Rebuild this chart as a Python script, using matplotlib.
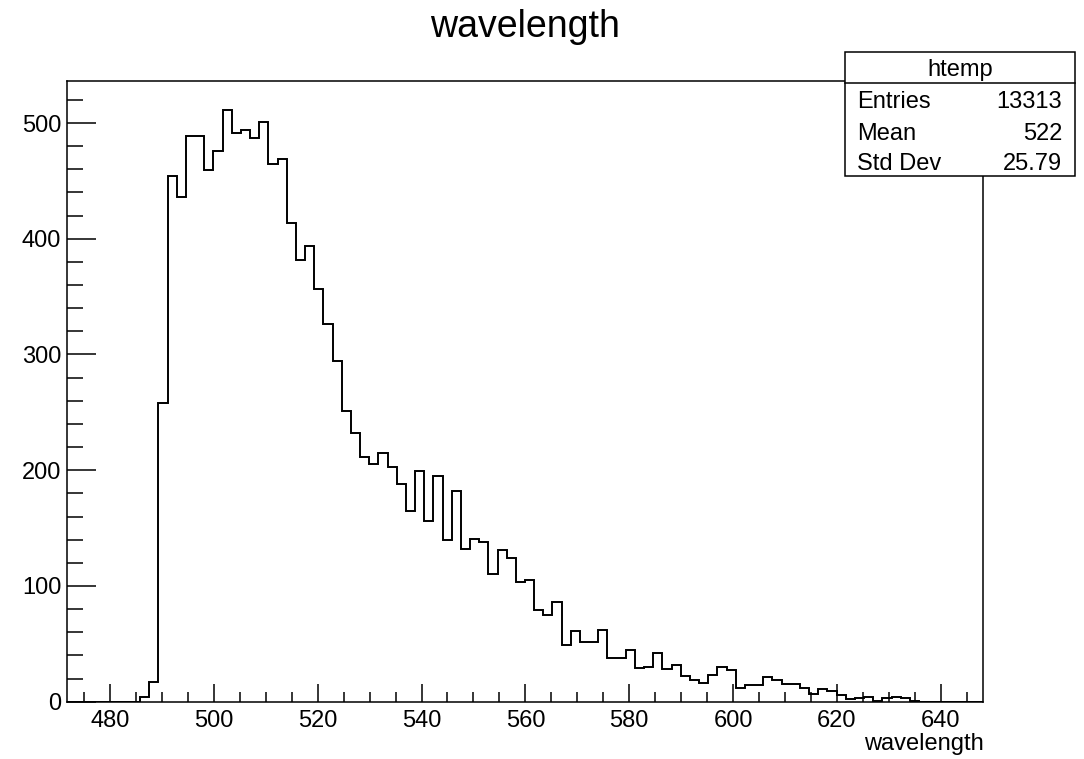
import numpy as np
import matplotlib
matplotlib.use("Agg")
import matplotlib.pyplot as plt
from matplotlib.patches import Rectangle
from matplotlib.lines import Line2D
from matplotlib.ticker import MultipleLocator

plt.rcParams['font.family'] = ['Liberation Sans', 'DejaVu Sans']

# ---- data ----
title = "wavelength"
x_label = "wavelength"
hist_name = "htemp"
x_min = 471.66
x_max = 648.2
n_bins = 100
counts = [0, 0, 0, 0, 0, 0, 0, 0,
          4, 17, 258, 454, 436, 489, 489, 459, 476, 511,
          491, 494, 487, 501, 465, 469, 414, 382, 394, 357,
          326, 294, 251, 232, 211, 205, 215, 203, 188, 165,
          199, 156, 195, 140, 182, 132, 141, 138, 110, 131,
          124, 103, 105, 79, 75, 86, 49, 61, 52, 52,
          62, 38, 38, 45, 29, 30, 42, 28, 32, 22,
          19, 16, 23, 30, 27, 12, 14, 14, 21, 19,
          15, 15, 12, 7, 11, 9, 6, 2, 3, 4,
          1, 3, 4, 3, 1,
          0, 0, 0, 0, 0, 0, 0]
stat_labels = ["Entries", "Mean", "Std Dev"]
stat_values = ["13313", "522", "25.79"]

edges = np.linspace(x_min, x_max, n_bins + 1)

W, H = 1084, 759
fig = plt.figure(figsize=(W / 100, H / 100), dpi=100)
ax = fig.add_axes([66.7 / W, 1 - 701.7 / H, (983.3 - 66.7) / W, (701.7 - 80.7) / H])

ax.stairs(counts, edges, color='black', linewidth=1.4, baseline=0)
ax.set_xlim(x_min, x_max)
ax.set_ylim(0, 1.05 * max(counts))

ax.xaxis.set_major_locator(MultipleLocator(20))
ax.xaxis.set_minor_locator(MultipleLocator(5))
ax.yaxis.set_major_locator(MultipleLocator(100))
ax.yaxis.set_minor_locator(MultipleLocator(20))

ax.tick_params(axis='x', which='major', direction='in', length=12.7, width=1.1,
               labelsize=17, pad=6, top=False)
ax.tick_params(axis='x', which='minor', direction='in', length=7.4, width=1.1, top=False)
ax.tick_params(axis='y', which='major', direction='in', length=20.9, width=1.1,
               labelsize=17, pad=4, right=False)
ax.tick_params(axis='y', which='minor', direction='in', length=11.5, width=1.1, right=False)

for s in ax.spines.values():
    s.set_linewidth(1.1)
    s.set_color('black')

fig.text(525 / W, 1 - 37.3 / H, title, ha='center', va='baseline', fontsize=27)
fig.text(983.3 / W, 1 - 750 / H, x_label, ha='right', va='baseline', fontsize=17)

# stats box
bl, br, bt, bh, bb = 845 / W, 1075 / W, 1 - 51.7 / H, 1 - 82.7 / H, 1 - 176 / H
rect = Rectangle((bl, bb), br - bl, bt - bb, transform=fig.transFigure,
                 facecolor='white', edgecolor='black', linewidth=1.1, zorder=5)
fig.add_artist(rect)
fig.add_artist(Line2D([bl, br], [bh, bh], transform=fig.transFigure,
                      color='black', linewidth=1.1, zorder=6))
fig.text((bl + br) / 2, 1 - 76 / H, hist_name, ha='center', va='baseline',
         fontsize=17, zorder=7)
for lab, val, yb in zip(stat_labels, stat_values, [107.7, 140, 170]):
    fig.text(857 / W, 1 - yb / H, lab, ha='left', va='baseline', fontsize=17, zorder=7)
    fig.text(1062 / W, 1 - yb / H, val, ha='right', va='baseline', fontsize=17, zorder=7)

fig.savefig("out.png", dpi=100)
